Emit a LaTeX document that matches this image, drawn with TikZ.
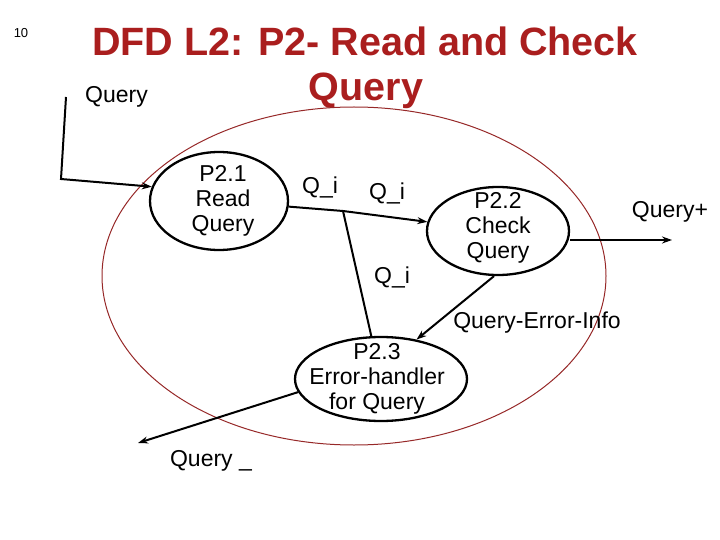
\documentclass[tikz,border=0pt]{standalone}
\usepackage{fontspec}
\setmainfont{Liberation Sans}
\usepackage{tikz}
\usetikzlibrary{shapes.geometric,arrows.meta,positioning}
\definecolor{titlered}{RGB}{170,30,30}
\definecolor{scopered}{RGB}{150,40,40}
\tikzstyle{process} = [ellipse, draw=black, line width=2.3pt, inner sep=0pt]
\tikzstyle{flow} = [line width=2pt, -{Stealth[length=10pt,width=7pt]}]
\tikzstyle{link} = [line width=2pt]
\tikzstyle{lbl} = [inner sep=0pt, font=\fontsize{23}{25}\selectfont]
\tikzstyle{title} = [inner sep=0pt, text=titlered, font=\fontsize{39.5}{44}\selectfont\bfseries]

\begin{document}
\begin{tikzpicture}[x=1pt, y=-1pt, font=\fontsize{23}{25}\selectfont]
    \useasboundingbox (0,0) rectangle (720,540);

    % header
    \node[inner sep=0pt, font=\fontsize{13}{15}\selectfont, anchor=base] (pageno) at (21,38) {10};
    \node[title, anchor=base] (title1) at (365,56) {DFD L2: P2- Read and Check};
    \node[title, anchor=base] (title2) at (366,101) {Query};

    % scope of P2
    \draw[scopered, line width=1pt] (354,276) ellipse [x radius=252, y radius=169];

    % processes
    \node[process, minimum width=138pt, minimum height=98pt,
          label={[lbl, align=center, xshift=4pt]center:P2.1\\Read\\Query}] (p21) at (219,201) {};
    \node[process, minimum width=142pt, minimum height=88pt,
          label={[lbl, align=center, yshift=3pt]center:P2.2\\Check\\Query}] (p22) at (498,231) {};
    \node[process, minimum width=172pt, minimum height=84pt,
          label={[lbl, align=center, xshift=-4pt]center:P2.3\\Error-handler\\for Query}] (p23) at (381,379) {};

    \coordinate (qin) at (66,97);
    \coordinate (qbend) at (61,179);
    \coordinate (split) at (343,211);
    \coordinate (qplus) at (672,240);
    \coordinate (qerr) at (138,443);

    % flows
    \draw[flow] (qin) -- (qbend) -- (p21.168);
    \draw[link] (p21) -- (split);
    \draw[flow] (split) -- (p22);
    \draw[link] (split) -- (p23);
    \draw[flow] (p22.east |- qplus) -- (qplus);
    \draw[flow] (p22.265) -- (p23.48);
    \draw[flow] (p23.189) -- (qerr);

    % flow labels
    \node[lbl, anchor=base west] (lquery) at (85,103) {Query};
    \node[lbl] (lqi1) at (320,187) {Q\_i};
    \node[lbl] (lqi2) at (387,193) {Q\_i};
    \node[lbl] (lqi3) at (392,277) {Q\_i};
    \node[lbl] (lqplus) at (670,212) {Query+};
    \node[lbl] (lqerrinfo) at (537,323) {Query-Error-Info};
    \node[lbl] (lqerr) at (211,461) {Query \_};
\end{tikzpicture}
\end{document}
